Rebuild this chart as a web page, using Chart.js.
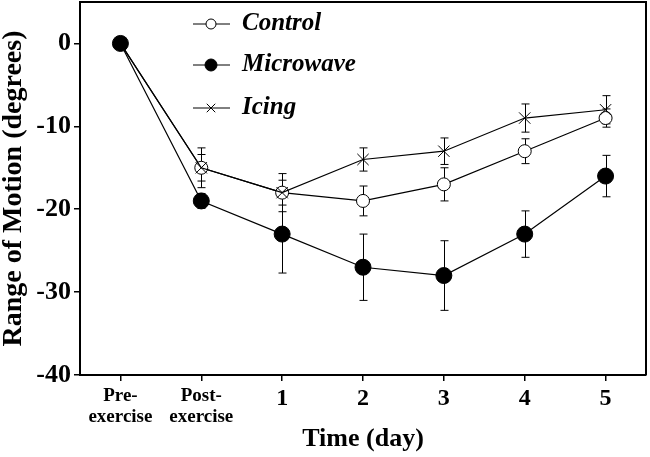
<!DOCTYPE html>
<html><head><meta charset="utf-8">
<script src="https://cdn.jsdelivr.net/npm/chart.js@4/dist/chart.umd.min.js"></script>
<style>html,body{margin:0;padding:0;background:#fff}#wrap{width:650px;height:457px}</style>
</head><body><div id="wrap"><canvas id="c" width="650" height="457"></canvas></div>
<script>
const categories = [['Pre-','exercise'],['Post-','exercise'],'1','2','3','4','5'];
const controlValues = [0,-15,-18,-19,-17,-13,-9];
const controlErrors = [0,1.6,1.5,1.8,2.0,1.5,1.1];
const microwaveValues = [0,-19,-23,-27,-28,-23,-16];
const microwaveErrors = [0,0.9,4.7,4.0,4.2,2.8,2.5];
const icingValues = [0,-15,-18,-14,-13,-9,-8];
const icingErrors = [0,2.4,2.3,1.4,1.6,1.7,1.7];
const yTicks = [-40,-30,-20,-10,0];
const seriesNames = ['Control','Microwave','Icing'];
const xTitle = 'Time (day)';
const yTitle = 'Range of Motion (degrees)';

const SERIF = "'Liberation Serif','Times New Roman',serif";

const errorBars = {
  id: 'errorBars',
  beforeDatasetsDraw(chart) {
    const {ctx, scales: {x, y}} = chart;
    ctx.save();
    ctx.strokeStyle = '#000';
    ctx.lineWidth = 1;
    chart.data.datasets.forEach(ds => {
      ds.data.forEach((v, i) => {
        const e = ds.errors[i];
        if (!e) return;
        const xp = Math.round(x.getPixelForValue(i)) + 0.5;
        const yt = y.getPixelForValue(v + e);
        const yb = y.getPixelForValue(v - e);
        ctx.beginPath();
        ctx.moveTo(xp, yt); ctx.lineTo(xp, yb);
        ctx.moveTo(xp - 4, yt); ctx.lineTo(xp + 4, yt);
        ctx.moveTo(xp - 4, yb); ctx.lineTo(xp + 4, yb);
        ctx.stroke();
      });
    });
    ctx.restore();
  }
};

const frameAndLegend = {
  id: 'frameAndLegend',
  afterDraw(chart) {
    const {ctx, chartArea: a} = chart;
    ctx.save();
    ctx.strokeStyle = '#000';
    ctx.lineWidth = 2;
    ctx.beginPath();
    ctx.moveTo(a.left, a.top); ctx.lineTo(a.right, a.top); ctx.lineTo(a.right, a.bottom);
    ctx.stroke();
    // legend
    const order = [2, 0, 1]; // Control, Microwave, Icing (dataset indices)
    const rowY = [24, 65, 108];
    const x0 = 193, x1 = 230, xm = 211, tx = 242;
    order.forEach((di, r) => {
      const ds = chart.data.datasets[di];
      const yy = rowY[r];
      ctx.strokeStyle = '#000';
      ctx.lineWidth = 1;
      ctx.beginPath(); ctx.moveTo(x0, yy); ctx.lineTo(x1, yy); ctx.stroke();
      ctx.fillStyle = ds.pointBackgroundColor;
      if (ds.pointStyle === 'circle') {
        ctx.beginPath();
        ctx.arc(xm, yy, ds.legendRadius, 0, Math.PI * 2);
        ctx.fill(); ctx.stroke();
      } else {
        Chart.helpers.drawPoint(ctx, { pointStyle: ds.pointStyle, radius: ds.legendRadius, rotation: 0, borderWidth: 1 }, xm, yy);
      }
      ctx.fillStyle = '#000';
      ctx.font = "italic bold 25px " + SERIF;
      ctx.textBaseline = 'middle';
      ctx.textAlign = 'left';
      ctx.fillText(ds.label, tx, yy);
    });
    ctx.restore();
  }
};

new Chart(document.getElementById('c'), {
  type: 'line',
  data: {
    labels: categories,
    datasets: [
      { label: seriesNames[1], data: microwaveValues, errors: microwaveErrors,
        borderColor: '#000', borderWidth: 1.2, pointStyle: 'circle', pointRadius: 8,
        pointBackgroundColor: '#000', pointBorderColor: '#000', pointBorderWidth: 1, legendRadius: 6 },
      { label: seriesNames[2], data: icingValues, errors: icingErrors,
        borderColor: '#000', borderWidth: 1.2, pointStyle: 'crossRot', pointRadius: 8,
        pointBackgroundColor: '#000', pointBorderColor: '#000', pointBorderWidth: 1, legendRadius: 6 },
      { label: seriesNames[0], data: controlValues, errors: controlErrors,
        borderColor: '#000', borderWidth: 1.2, pointStyle: 'circle', pointRadius: 6.5,
        pointBackgroundColor: '#fff', pointBorderColor: '#000', pointBorderWidth: 1, legendRadius: 5 }
    ]
  },
  options: {
    responsive: false,
    animation: false,
    devicePixelRatio: 1,
    layout: { autoPadding: false, padding: { top: 2, right: 4, left: 0, bottom: 0 } },
    plugins: { legend: { display: false }, tooltip: { enabled: false } },
    elements: { line: { tension: 0 } },
    scales: {
      x: {
        type: 'category', offset: true,
        grid: { drawOnChartArea: false, drawTicks: true, tickLength: 6, color: '#000', lineWidth: 1.5 },
        border: { display: true, color: '#000', width: 2 },
        ticks: {
          color: '#000', padding: 5, maxRotation: 0, autoSkip: false,
          font: (c) => ({ family: SERIF, weight: 'bold', size: c.index < 2 ? 19 : 24, lineHeight: 1.1 })
        },
        title: { display: true, text: xTitle, color: '#000', padding: { top: 0, bottom: 5 },
          font: { family: SERIF, weight: 'bold', size: 26, lineHeight: 1 } },
        afterFit: (s) => { s.height = 82; s.paddingLeft = 0; s.paddingRight = 0; }
      },
      y: {
        min: -40, max: 5,
        afterBuildTicks: (s) => { s.ticks = yTicks.map(v => ({ value: v })); },
        grid: { drawOnChartArea: false, drawTicks: true, tickLength: 6, color: '#000', lineWidth: 1.5 },
        border: { display: true, color: '#000', width: 2 },
        ticks: { color: '#000', padding: 3, font: { family: SERIF, weight: 'bold', size: 26 } },
        title: { display: true, text: yTitle, color: '#000', padding: { top: 0, bottom: 0 },
          font: { family: SERIF, weight: 'bold', size: 28, lineHeight: 1 } },
        afterFit: (s) => { s.width = 80; s.paddingTop = 0; s.paddingBottom = 0; }
      }
    }
  },
  plugins: [errorBars, frameAndLegend]
});
</script></body></html>
